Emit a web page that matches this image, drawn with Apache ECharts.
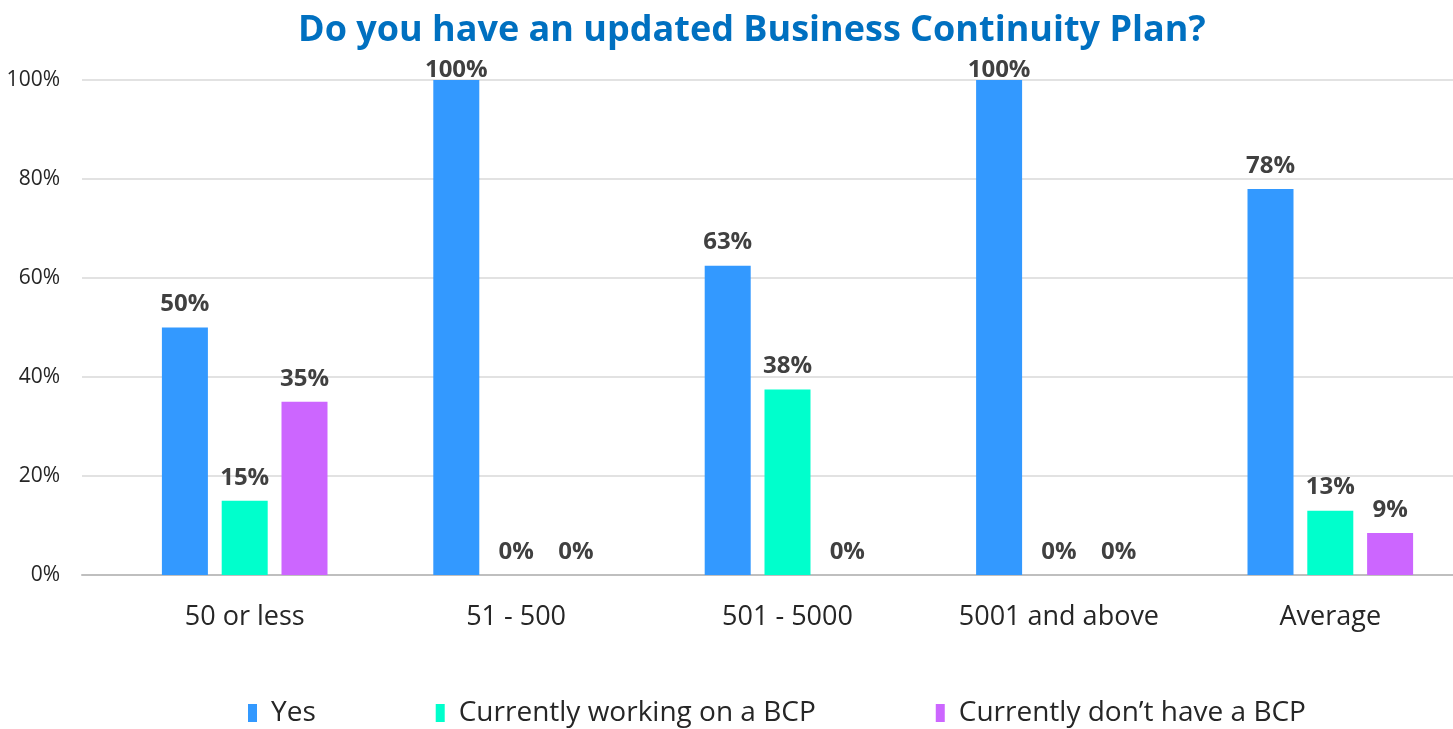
<!DOCTYPE html>
<html>
<head>
<meta charset="utf-8">
<title>Business Continuity Plan</title>
<script src="https://cdn.jsdelivr.net/npm/echarts@6/dist/echarts.min.js"></script>
<style>
  html, body { margin: 0; padding: 0; background: #fff; }
  #chart { width: 1453px; height: 729px; }
</style>
</head>
<body>
<div id="chart"></div>
<script>
// chart data
var categories = ['50 or less', '51 - 500', '501 - 5000', '5001 and above', 'Average']
var seriesNames = ['Yes', 'Currently working on a BCP', 'Currently don\u2019t have a BCP']
var yesData = [50, 100, 62.5, 100, 78]
var workingData = [15, 0, 37.5, 0, 13]
var noBcpData = [35, 0, 0, 0, 8.5]
var yTicks = [0, 20, 40, 60, 80, 100]

var colors = ['#3399FF', '#00FFCC', '#CC66FF']
var font = '"Open Sans", sans-serif'

function withLabels(arr) {
  // Excel squeezes the 100% labels against the top of the plot
  return arr.map(function (v) {
    if (v >= 100) {
      return { value: v, label: { distance: -2 } }
    }
    return v
  })
}

function makeSeries(name, data, color) {
  return {
    name: name,
    type: 'bar',
    xAxisIndex: 1,
    yAxisIndex: 1,
    barWidth: 46,
    barGap: '30%',
    itemStyle: { color: color },
    label: {
      show: true,
      position: 'top',
      distance: 11,
      color: '#404040',
      fontFamily: font,
      fontSize: 24,
      fontWeight: 'bold',
      formatter: function (p) { return Math.round(p.value) + '%' }
    },
    data: withLabels(data),
    animation: false
  }
}

var chart = echarts.init(document.getElementById('chart'))
chart.setOption({
  title: {
    text: 'Do you have an updated Business Continuity Plan?',
    left: 293,
    top: 8,
    textStyle: {
      color: '#0070C0',
      fontFamily: font,
      fontSize: 36,
      fontWeight: 'bold'
    }
  },
  legend: {
    bottom: -3,
    left: 243,
    itemWidth: 9,
    itemHeight: 18,
    itemGap: 120,
    icon: 'rect',
    data: seriesNames,
    textStyle: {
      color: '#262626',
      fontFamily: font,
      fontSize: 28,
      padding: [0, 0, 0, 9]
    }
  },
  grid: [
    { left: 82, right: 0, top: 80, height: 495, outerBoundsMode: 'none' },
    { left: 109, width: 1357, top: 80, height: 495, outerBoundsMode: 'none' }
  ],
  xAxis: [
    {
      gridIndex: 0,
      type: 'value',
      min: 0,
      max: 1,
      axisLine: { show: true, lineStyle: { color: '#BFBFBF', width: 2 } },
      axisTick: { show: false },
      axisLabel: { show: false },
      splitLine: { show: false }
    },
    {
      gridIndex: 1,
      type: 'category',
      data: categories,
      axisLine: { show: false },
      axisTick: { show: false },
      axisLabel: {
        margin: 29,
        color: '#262626',
        fontFamily: font,
        fontSize: 27
      }
    }
  ],
  yAxis: [
    {
      gridIndex: 0,
      type: 'value',
      min: yTicks[0],
      max: yTicks[yTicks.length - 1],
      interval: 20,
      axisLine: { show: false },
      axisTick: { show: false },
      axisLabel: {
        margin: 22,
        color: '#262626',
        fontFamily: font,
        fontSize: 21,
        formatter: '{value}%'
      },
      splitLine: { lineStyle: { color: '#D9D9D9', width: 1.5 } }
    },
    {
      gridIndex: 1,
      type: 'value',
      min: 0,
      max: 100,
      show: false
    }
  ],
  series: [
    makeSeries(seriesNames[0], yesData, colors[0]),
    makeSeries(seriesNames[1], workingData, colors[1]),
    makeSeries(seriesNames[2], noBcpData, colors[2])
  ]
})
</script>
</body>
</html>
